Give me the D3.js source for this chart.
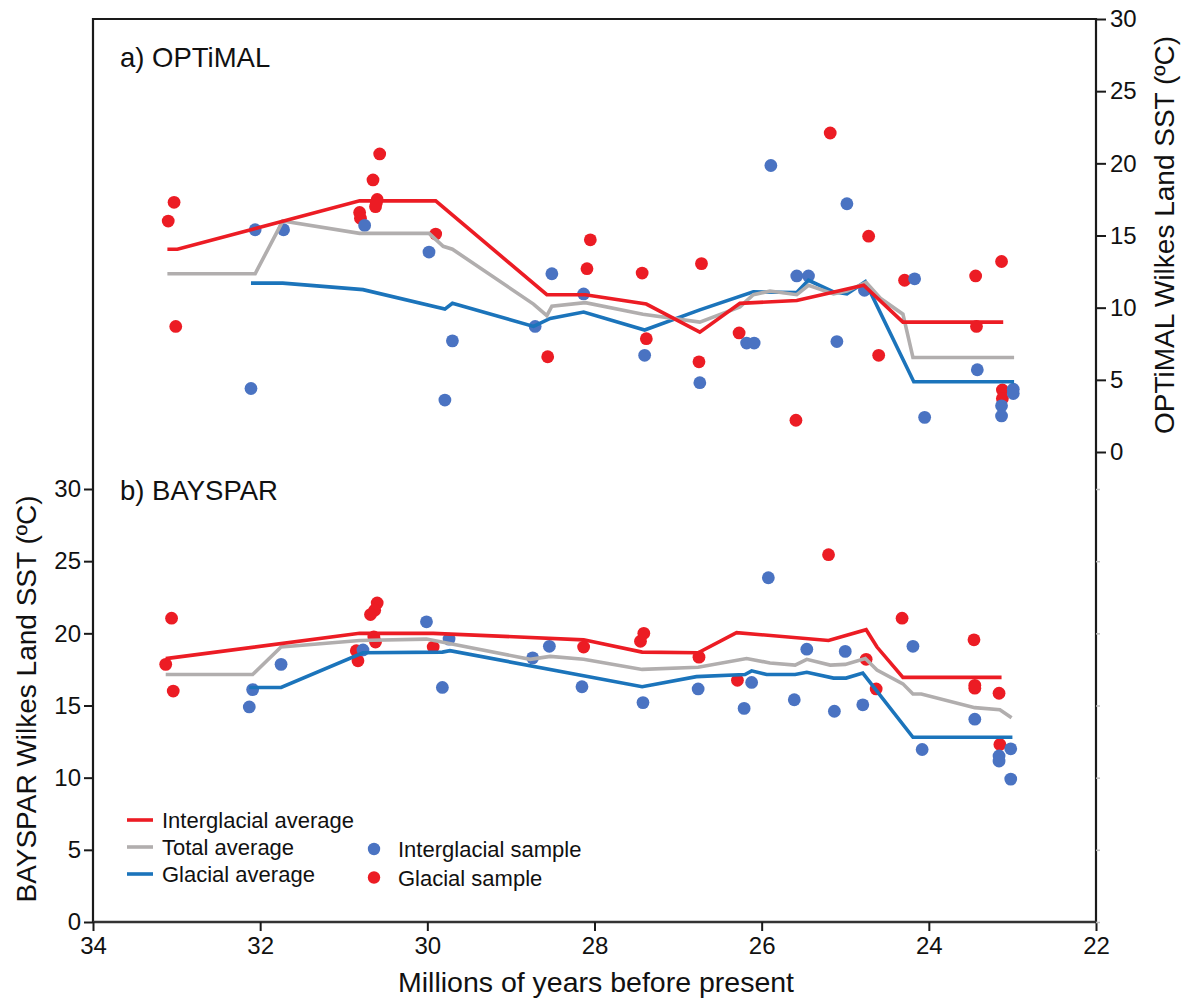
<!DOCTYPE html>
<html>
<head>
<meta charset="utf-8">
<script src="https://cdn.jsdelivr.net/npm/d3@7"></script>
<style>
  body { margin: 0; background: #fff; }
  svg text { font-family: "Liberation Sans", Arial, Helvetica, sans-serif; fill: #111; }
</style>
</head>
<body>
<svg id="chart" width="1188" height="1003"></svg>
<script>
// ---- Data: [age (Ma), SST (°C)] ----

// a) OPTiMAL
const optimalGlacialSamples = [
  [33.10, 16.0], [33.03, 17.3], [33.01, 8.7], [30.81, 16.6], [30.80, 16.2],
  [30.65, 18.85], [30.57, 20.65], [30.60, 17.5], [30.61, 17.25], [30.62, 17.0],
  [29.90, 15.1], [28.05, 14.7], [28.09, 12.7], [28.56, 6.6], [27.43, 12.4],
  [27.38, 7.85], [26.72, 13.05], [26.75, 6.25], [26.27, 8.25], [25.18, 22.1],
  [25.59, 2.2], [24.72, 14.95], [24.60, 6.7], [24.29, 11.9], [23.44, 12.2],
  [23.13, 13.2], [23.43, 8.7], [23.12, 4.3], [23.12, 3.7]
];
const optimalInterglacialSamples = [
  [32.06, 15.4], [31.72, 15.4], [30.75, 15.7], [29.98, 13.85], [29.70, 7.7],
  [32.11, 4.4], [29.79, 3.6], [28.51, 12.35], [28.13, 10.95], [28.71, 8.7],
  [27.40, 6.7], [26.74, 4.8], [26.18, 7.55], [26.09, 7.55], [25.89, 19.85],
  [25.58, 12.2], [25.44, 12.2], [24.98, 17.2], [25.10, 7.65], [24.77, 11.2],
  [24.17, 12.0], [23.42, 5.7], [24.05, 2.4], [23.13, 3.2], [23.13, 2.5],
  [22.99, 4.35], [22.99, 4.05]
];
const optimalInterglacialAvg = [
  [33.11, 14.05], [32.99, 14.05], [30.81, 17.4], [29.90, 17.4], [28.57, 10.9],
  [28.11, 10.9], [27.38, 10.25], [26.74, 8.3], [26.26, 10.3], [25.58, 10.5],
  [24.78, 11.55], [24.31, 9.0], [23.11, 9.0]
];
const optimalTotalAvg = [
  [33.11, 12.35], [32.06, 12.35], [31.73, 16.0], [30.81, 15.15], [29.98, 15.15],
  [29.81, 14.25], [29.70, 14.05], [28.73, 10.25], [28.57, 9.45], [28.51, 10.1],
  [28.11, 10.35], [27.42, 9.55], [26.74, 9.0], [26.26, 10.05], [26.10, 10.9],
  [25.90, 11.15], [25.58, 10.9], [25.44, 11.55], [25.14, 10.95], [24.98, 11.15],
  [24.75, 11.75], [24.58, 10.65], [24.31, 9.55], [24.19, 6.55], [22.98, 6.55]
];
const optimalGlacialAvg = [
  [32.11, 11.7], [31.73, 11.7], [30.77, 11.25], [29.79, 9.9], [29.70, 10.3],
  [28.73, 8.7], [28.53, 9.25], [28.13, 9.7], [27.40, 8.45], [26.74, 9.85],
  [26.10, 11.1], [25.58, 11.05], [25.44, 11.9], [25.14, 11.1], [24.98, 10.95],
  [24.76, 11.8], [24.18, 4.87], [22.98, 4.87]
];

// b) BAYSPAR
const bayesGlacialSamples = [
  [33.06, 21.05], [33.13, 17.85], [33.04, 16.0], [30.60, 22.1], [30.63, 21.6],
  [30.68, 21.3], [30.64, 19.75], [30.62, 19.4], [30.85, 18.8], [30.83, 18.1],
  [29.93, 19.05], [28.13, 19.05], [27.45, 19.45], [27.41, 20.0], [26.75, 18.35],
  [26.29, 16.75], [25.20, 25.45], [24.75, 18.2], [24.63, 16.15], [24.32, 21.05],
  [23.46, 19.55], [23.45, 16.4], [23.45, 16.2], [23.16, 15.85], [23.15, 12.3]
];
const bayesInterglacialSamples = [
  [31.75, 17.85], [32.09, 16.1], [32.13, 14.9], [30.77, 18.85], [30.01, 20.8],
  [29.74, 19.6], [29.82, 16.25], [28.74, 18.3], [28.54, 19.1], [28.15, 16.3],
  [27.42, 15.2], [26.76, 16.15], [26.21, 14.8], [26.12, 16.6], [25.92, 23.85],
  [25.61, 15.4], [25.46, 18.9], [25.13, 14.6], [25.00, 18.75], [24.79, 15.05],
  [24.19, 19.1], [23.45, 14.05], [24.08, 11.95], [23.02, 12.0], [23.16, 11.5],
  [23.16, 11.15], [23.02, 9.9]
];
const bayesInterglacialAvg = [
  [33.13, 18.25], [30.81, 20.0], [29.93, 20.0], [28.13, 19.55], [27.43, 18.7],
  [26.76, 18.65], [26.30, 20.05], [25.20, 19.5], [24.75, 20.25], [24.62, 19.05],
  [24.31, 16.95], [23.13, 16.95]
];
const bayesTotalAvg = [
  [33.13, 17.15], [32.09, 17.15], [31.75, 19.05], [30.81, 19.5], [30.01, 19.6],
  [28.77, 18.2], [28.53, 18.4], [28.13, 18.2], [27.43, 17.5], [26.76, 17.65],
  [26.18, 18.25], [25.90, 17.95], [25.60, 17.8], [25.46, 18.2], [25.18, 17.8],
  [25.00, 17.85], [24.76, 18.25], [24.62, 17.45], [24.31, 16.5], [24.19, 15.8],
  [24.09, 15.8], [23.45, 14.85], [23.15, 14.7], [23.01, 14.15]
];
const bayesGlacialAvg = [
  [32.13, 16.25], [31.75, 16.25], [30.77, 18.65], [29.82, 18.7], [29.73, 18.8],
  [27.43, 16.3], [26.78, 17.0], [26.20, 17.15], [26.12, 17.4], [25.94, 17.15],
  [25.60, 17.15], [25.46, 17.3], [25.14, 16.9], [24.99, 16.9], [24.79, 17.25],
  [24.19, 12.8], [23.00, 12.8]
];

const ageTicks = [34, 32, 30, 28, 26, 24, 22];
const sstTicks = [0, 5, 10, 15, 20, 25, 30];
const legendLines = ["Interglacial average", "Total average", "Glacial average"];
const legendDots = ["Interglacial sample", "Glacial sample"];

// ---- Styles ----
const RED = "#ec1c24", GREY = "#b1aeae", BLUE_LINE = "#1b74bb", BLUE_DOT = "#4a73c2";
const AXIS = "#1a1a1a";

const svg = d3.select("#chart");

// ---- Scales ----
const x = d3.scaleLinear().domain([34, 22]).range([93, 1096]);
const yTop = d3.scaleLinear().domain([0, 30]).range([452, 19]);
const yBot = d3.scaleLinear().domain([0, 30]).range([922, 489]);

function drawPanel(y, glacial, interglacial, interAvg, totalAvg, glacAvg) {
  const g = svg.append("g");
  const line = d3.line().x(d => x(d[0])).y(d => y(d[1]));
  g.selectAll(null).data(glacial).join("circle")
    .attr("cx", d => x(d[0])).attr("cy", d => y(d[1])).attr("r", 6.4).attr("fill", RED);
  g.selectAll(null).data(interglacial).join("circle")
    .attr("cx", d => x(d[0])).attr("cy", d => y(d[1])).attr("r", 6.4).attr("fill", BLUE_DOT);
  [[glacAvg, BLUE_LINE], [totalAvg, GREY], [interAvg, RED]].forEach(([data, col]) => {
    g.append("path").datum(data).attr("d", line)
      .attr("fill", "none").attr("stroke", col).attr("stroke-width", 3.6)
      .attr("stroke-linejoin", "miter");
  });
}

drawPanel(yTop, optimalGlacialSamples, optimalInterglacialSamples,
  optimalInterglacialAvg, optimalTotalAvg, optimalGlacialAvg);
drawPanel(yBot, bayesGlacialSamples, bayesInterglacialSamples,
  bayesInterglacialAvg, bayesTotalAvg, bayesGlacialAvg);

// ---- Frame and axes ----
function styleAxis(g, size) {
  g.selectAll(".domain").remove();
  g.selectAll(".tick line").attr("stroke", AXIS).attr("stroke-width", 2);
  g.selectAll(".tick text").attr("font-size", size).attr("fill", "#111")
    .attr("font-family", '"Liberation Sans", Arial, sans-serif');
}

// top border
svg.append("line").attr("x1", 93).attr("x2", 1096).attr("y1", 19).attr("y2", 19)
  .attr("stroke", AXIS).attr("stroke-width", 2.2);
// left and right verticals
svg.append("line").attr("x1", 93).attr("x2", 93).attr("y1", 18).attr("y2", 923)
  .attr("stroke", AXIS).attr("stroke-width", 2.2);
svg.append("line").attr("x1", 1096).attr("x2", 1096).attr("y1", 18).attr("y2", 923)
  .attr("stroke", AXIS).attr("stroke-width", 2.2);
// bottom axis line
svg.append("line").attr("x1", 93).attr("x2", 1097).attr("y1", 922).attr("y2", 922)
  .attr("stroke", "#333").attr("stroke-width", 2.4);

const xAxis = svg.append("g").attr("transform", "translate(0,922)")
  .call(d3.axisBottom(x).tickValues(ageTicks).tickSize(9).tickPadding(6).tickFormat(d3.format("d")));
styleAxis(xAxis, 24);

const leftAxis = svg.append("g").attr("transform", "translate(93,0)")
  .call(d3.axisLeft(yBot).tickValues(sstTicks).tickSize(9).tickPadding(3));
styleAxis(leftAxis, 24);

const rightAxis = svg.append("g").attr("transform", "translate(1096,0)")
  .call(d3.axisRight(yTop).tickValues(sstTicks).tickSize(10).tickPadding(4));
styleAxis(rightAxis, 24);

const rightMinor = svg.append("g").attr("transform", "translate(1096,0)")
  .call(d3.axisRight(yBot).tickValues(sstTicks).tickSize(4).tickFormat(""));
rightMinor.selectAll(".domain").remove();
rightMinor.selectAll(".tick line").attr("stroke", "#bbb").attr("stroke-width", 1.5);

// ---- Titles ----
svg.append("text").attr("x", 120).attr("y", 67).attr("font-size", 27.5).text("a) OPTiMAL");
svg.append("text").attr("x", 120).attr("y", 500).attr("font-size", 27.5).text("b) BAYSPAR");

svg.append("text").attr("x", 596).attr("y", 992).attr("text-anchor", "middle")
  .attr("font-size", 28.5).text("Millions of years before present");

svg.append("text").attr("transform", "translate(36,699) rotate(-90)")
  .attr("text-anchor", "middle").attr("font-size", 28).text("BAYSPAR Wilkes Land SST (ºC)");
svg.append("text").attr("transform", "translate(1174,235) rotate(-90)")
  .attr("text-anchor", "middle").attr("font-size", 28).text("OPTiMAL Wilkes Land SST (ºC)");

// ---- Legend ----
const legendColors = [RED, GREY, BLUE_LINE];
const leg = svg.append("g");
legendLines.forEach((label, i) => {
  const yy = 820 + i * 27;
  leg.append("line").attr("x1", 127).attr("x2", 153).attr("y1", yy).attr("y2", yy)
    .attr("stroke", legendColors[i]).attr("stroke-width", 3.6);
  leg.append("text").attr("x", 162).attr("y", yy + 7.5).attr("font-size", 22).text(label);
});
const dotColors = [BLUE_DOT, RED];
legendDots.forEach((label, i) => {
  const yy = 849 + i * 28.5;
  leg.append("circle").attr("cx", 374).attr("cy", yy).attr("r", 6.2).attr("fill", dotColors[i]);
  leg.append("text").attr("x", 398).attr("y", yy + 8).attr("font-size", 22).text(label);
});
</script>
</body>
</html>
